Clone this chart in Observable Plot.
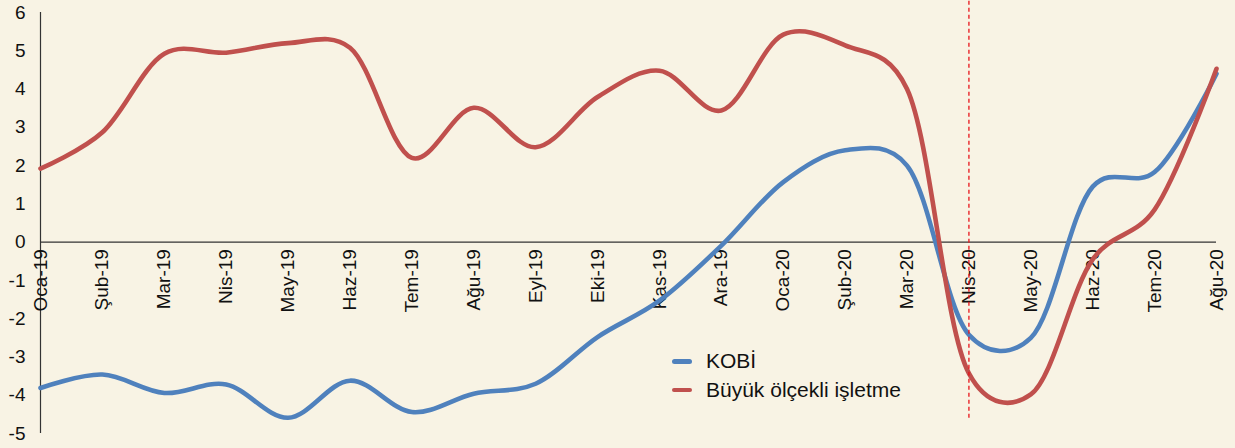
<!DOCTYPE html>
<html>
<head>
<meta charset="utf-8">
<script src="https://cdn.jsdelivr.net/npm/d3@7"></script>
<script src="https://cdn.jsdelivr.net/npm/@observablehq/plot@0.6"></script>
<style>
  html, body { margin: 0; padding: 0; background: #F8F3E4; }
  #wrap { position: relative; width: 1235px; height: 448px; background: #F8F3E4; font-family: "Liberation Sans", Arial, sans-serif; }
  #legend { position: absolute; left: 672px; top: 347px; font-size: 21px; color: #111; }
  #legend .item { display: flex; align-items: center; height: 28.5px; }
  #legend .sw { width: 20px; height: 4.5px; border-radius: 3px; margin-right: 14px; }
</style>
</head>
<body>
<div id="wrap"><div id="legend"></div></div>
<script>
const months = ["Oca-19","Şub-19","Mar-19","Nis-19","May-19","Haz-19","Tem-19","Ağu-19","Eyl-19","Eki-19","Kas-19","Ara-19","Oca-20","Şub-20","Mar-20","Nis-20","May-20","Haz-20","Tem-20","Ağu-20"];
const seriesNames = ["KOBİ", "Büyük ölçekli işletme"];
const seriesColors = ["#4F81BD", "#C0504D"];
const kobi = [-3.81,-3.46,-3.94,-3.72,-4.59,-3.62,-4.44,-3.96,-3.70,-2.48,-1.53,-0.09,1.57,2.40,2.00,-2.42,-2.50,1.45,1.83,4.40];
const buyuk = [1.92,2.87,4.92,4.95,5.20,5.08,2.20,3.51,2.48,3.79,4.48,3.44,5.42,5.14,4.00,-3.43,-3.98,-0.45,0.85,4.53];
const yTicks = [-5,-4,-3,-2,-1,0,1,2,3,4,5,6];
const markerMonth = "Nis-20";

const data = [];
months.forEach((m, i) => {
  data.push({month: m, series: seriesNames[0], value: kobi[i]});
  data.push({month: m, series: seriesNames[1], value: buyuk[i]});
});

const font = "Liberation Sans, Arial, sans-serif";
const smooth = d3.curveCatmullRom.alpha(0.2);
const chart = Plot.plot({
  width: 1235,
  height: 448,
  marginLeft: 40,
  marginRight: 19,
  marginTop: 12,
  marginBottom: 15,
  style: {background: "transparent", fontFamily: font, color: "#111"},
  x: {type: "point", domain: months, padding: 0, round: false, axis: null},
  y: {domain: [-5, 6], axis: null},
  color: {domain: seriesNames, range: seriesColors},
  marks: [
    Plot.axisY(yTicks, {tickSize: 0, tickPadding: 15, fontSize: 19, fill: "#111", label: null, tickFormat: d => String(d)}),
    Plot.ruleX([months[0]], {y1: yTicks[0], y2: yTicks[yTicks.length - 1], stroke: "#333", strokeWidth: 1.2}),
    Plot.ruleY([0], {stroke: "#333", strokeWidth: 1.2}),
    Plot.text(months, {x: d => d, y: () => 0, text: d => d, rotate: -90, textAnchor: "end", dy: 7, fontSize: 19, fill: "#111"}),
    Plot.line(data.filter(d => d.series === seriesNames[0]), {x: "month", y: "value", stroke: "series", strokeWidth: 4.6, curve: smooth}),
    Plot.line(data.filter(d => d.series === seriesNames[1]), {x: "month", y: "value", stroke: "series", strokeWidth: 4.6, curve: smooth}),
    Plot.ruleX([markerMonth], {y1: -4.6, y2: 6.3, stroke: "#E8141B", strokeWidth: 1.3, strokeDasharray: "4,3"})
  ]
});
const wrap = document.getElementById("wrap");
wrap.insertBefore(chart, wrap.firstChild);

const legend = document.getElementById("legend");
seriesNames.forEach((s, i) => {
  const it = document.createElement("div");
  it.className = "item";
  const sw = document.createElement("span");
  sw.className = "sw";
  sw.style.background = seriesColors[i];
  const t = document.createElement("span");
  t.textContent = s;
  it.appendChild(sw); it.appendChild(t);
  legend.appendChild(it);
});
</script>
</body>
</html>
